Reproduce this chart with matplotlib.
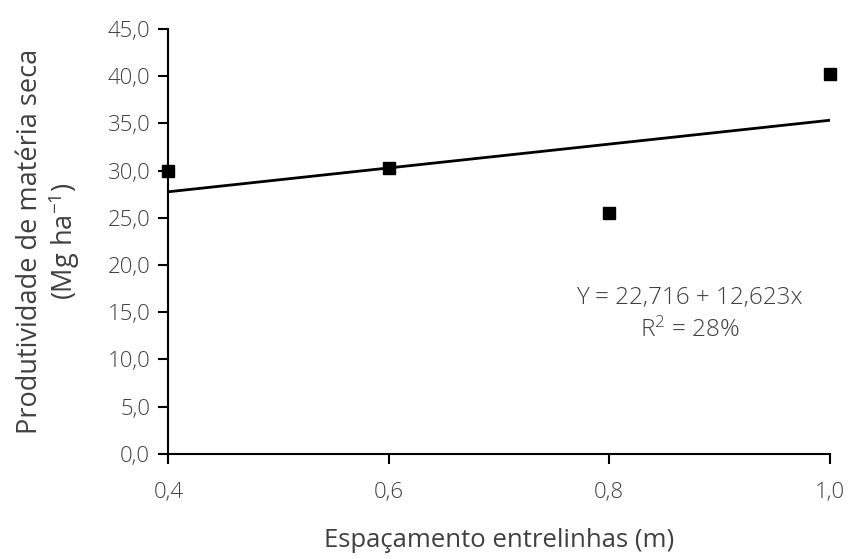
import matplotlib.pyplot as plt
import numpy as np

plt.rcParams['font.family'] = ['Open Sans', 'DejaVu Sans']
plt.rcParams['font.weight'] = 'light'
plt.rcParams['mathtext.default'] = 'regular'

# spacing (m) and dry matter yield (Mg/ha)
espacamento = [0.4, 0.6, 0.8, 1.0]
produtividade = [30.0, 30.3, 25.5, 40.2]

# fitted regression Y = a + b x
a, b = 22.716, 12.623

fig = plt.figure(figsize=(8.5, 5.59), dpi=100)
ax = fig.add_axes([0.198, 0.188, 0.778, 0.760])

x_fit = np.array([espacamento[0], espacamento[-1]])
ax.plot(x_fit, a + b * x_fit, color='black', lw=2)
ax.plot(espacamento, produtividade, 's', color='black', markersize=8, clip_on=False)

ax.set_xlim(0.4, 1.0)
ax.set_ylim(0, 45)
ax.set_xticks([0.4, 0.6, 0.8, 1.0])
ax.set_yticks(np.arange(0, 46, 5))
ax.set_xticklabels(['0,4', '0,6', '0,8', '1,0'])
ax.set_yticklabels([f'{v:.1f}'.replace('.', ',') for v in np.arange(0, 46, 5)])

for s in ['top', 'right']:
    ax.spines[s].set_visible(False)
for s in ['left', 'bottom']:
    ax.spines[s].set_linewidth(1.5)
ax.tick_params(direction='out', length=7, width=1.5, labelsize=16,
               labelcolor='#404040')
ax.tick_params(axis='x', pad=13)
ax.tick_params(axis='y', pad=6)

ax.set_xlabel('Espaçamento entrelinhas (m)', fontsize=18.5, color='#404040', labelpad=18)
ax.set_ylabel('Produtividade de matéria seca\n(Mg ha$^{-1}$)', fontsize=19.5,
              color='#404040', labelpad=18, linespacing=1.1)

ax.text(0.873, 16.5, 'Y = 22,716 + 12,623x', ha='center', va='center',
        fontsize=17.5, color='#404040')
ax.text(0.873, 13.1, 'R$^{2}$ = 28%', ha='center', va='center',
        fontsize=17.5, color='#404040')

plt.savefig('out.png', dpi=100)
